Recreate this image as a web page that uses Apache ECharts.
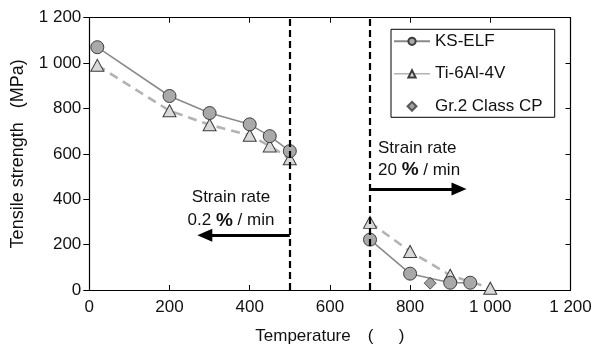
<!DOCTYPE html>
<html><head><meta charset="utf-8">
<script src="https://cdn.jsdelivr.net/npm/echarts@6/dist/echarts.min.js"></script>
<style>html,body{margin:0;padding:0;background:#fff}#c{width:595px;height:350px}</style>
</head><body><div id="c"></div>
<script>
// ---- data ----
var ksLowT  = [20, 200, 300, 400, 450, 500];
var ksLow   = [1070, 855, 780, 730, 678, 612];
var ksHighT = [700, 800, 900, 950];
var ksHigh  = [222, 72, 32, 32];
var tiLowT  = [20, 200, 300, 400, 450, 500];
var tiLow   = [990, 790, 728, 682, 635, 578];
var tiHighT = [700, 800, 900, 1000];
var tiHigh  = [298, 170, 65, 8];
var cpT     = [850];
var cp      = [30];
var xTicks  = [0, 200, 400, 600, 800, 1000, 1200];
var yTicks  = [0, 200, 400, 600, 800, 1000, 1200];
var rateBounds = [500, 700];
var arrowLow  = {from: 500, to: 288, y: 241};
var arrowHigh = {from: 700, to: 922, y: 445};

function pairs(xs, ys) { return xs.map(function (x, i) { return [x, ys[i]]; }); }
function fmt(v) { var s = String(v); return s.length > 3 ? s.slice(0, s.length - 3) + ' ' + s.slice(-3) : s; }

var FONT = 'Liberation Sans, Arial, sans-serif';
var chart = echarts.init(document.getElementById('c'), null, {renderer: 'canvas'});

var ksStyle = {
  type: 'line', name: 'KS-ELF', symbol: 'circle', symbolSize: 13,
  lineStyle: {color: '#8a8a8a', width: 1.6},
  itemStyle: {color: '#a9a9a9', borderColor: '#3c3c3c', borderWidth: 1},
  z: 4, animation: false
};
var tiStyle = {
  type: 'line', name: 'Ti-6Al-4V', symbol: 'triangle', symbolSize: [13, 12],
  lineStyle: {color: '#b3b3b3', width: 2.6, type: [9, 6]},
  itemStyle: {color: '#d9d9d9', borderColor: '#3c3c3c', borderWidth: 1},
  z: 3, animation: false
};
var richB = {b: {fontWeight: 'bold', fontSize: 19, fontFamily: FONT, fill: '#111'}};

var option = {
  animation: false,
  grid: {left: 89.3, right: 24.5, top: 17.7, bottom: 53.3},
  xAxis: [{
    type: 'value', min: xTicks[0], max: xTicks[xTicks.length - 1], interval: 200,
    name: 'Temperature\u3000(\u3000\u2002)', nameLocation: 'middle', nameGap: 38,
    nameTextStyle: {fontFamily: FONT, fontSize: 17, color: '#111'},
    axisLine: {onZero: false, lineStyle: {color: '#000', width: 1.2}},
    axisTick: {inside: true, length: 5, lineStyle: {color: '#000'}},
    axisLabel: {fontFamily: FONT, fontSize: 17, color: '#111', margin: 9, formatter: fmt},
    splitLine: {show: false}
  }, {
    type: 'value', position: 'top', min: xTicks[0], max: xTicks[xTicks.length - 1], interval: 200,
    axisLine: {show: true, onZero: false, lineStyle: {color: '#000', width: 1.2}},
    axisTick: {show: true, inside: true, length: 5, lineStyle: {color: '#000'}},
    axisLabel: {show: false}, splitLine: {show: false}
  }],
  yAxis: [{
    type: 'value', min: yTicks[0], max: yTicks[yTicks.length - 1], interval: 200,
    name: 'Tensile strength\u2002 (MPa)', nameLocation: 'middle', nameGap: 62, nameRotate: 90,
    nameTextStyle: {fontFamily: FONT, fontSize: 18, color: '#111'},
    axisLine: {show: true, onZero: false, lineStyle: {color: '#000', width: 1.2}},
    axisTick: {show: true, inside: false, length: 6, lineStyle: {color: '#000'}},
    axisLabel: {fontFamily: FONT, fontSize: 17, color: '#111', margin: 8, formatter: fmt},
    splitLine: {show: false}
  }, {
    type: 'value', position: 'right', min: yTicks[0], max: yTicks[yTicks.length - 1], interval: 200,
    axisLine: {show: true, onZero: false, lineStyle: {color: '#000', width: 1.2}},
    axisTick: {show: true, inside: true, length: 5, lineStyle: {color: '#000'}},
    axisLabel: {show: false}, splitLine: {show: false}
  }],
  legend: {
    orient: 'vertical', left: 391, top: 29.3,
    itemWidth: 36, itemHeight: 9, itemGap: 12.5, itemTextGap: 6,
    padding: [2, 12, 1, 2], symbolKeepAspect: true,
    borderColor: '#000', borderWidth: 1,
    textStyle: {fontFamily: FONT, fontSize: 17, color: '#111', lineHeight: 20},
    data: [
      {name: 'KS-ELF'},
      {name: 'Ti-6Al-4V', lineStyle: {type: 'solid', width: 1.6}},
      {name: 'Gr.2 Class CP', icon: 'path://M5,0L10,5L5,10L0,5Z'}
    ]
  },
  series: [
    Object.assign({}, ksStyle, {data: pairs(ksLowT, ksLow)}),
    Object.assign({}, ksStyle, {data: pairs(ksHighT, ksHigh)}),
    Object.assign({}, tiStyle, {data: pairs(tiLowT, tiLow)}),
    Object.assign({}, tiStyle, {data: pairs(tiHighT, tiHigh)}),
    {
      type: 'scatter', name: 'Gr.2 Class CP', symbol: 'diamond', symbolSize: 12,
      itemStyle: {color: '#8a8a8a', borderColor: '#3c3c3c', borderWidth: 1},
      data: pairs(cpT, cp), z: 5
    },
    {
      type: 'line', name: 'guides', data: [], silent: true, z: 2,
      markLine: {
        silent: true, animation: false, symbol: ['none', 'none'], label: {show: false},
        lineStyle: {color: '#000', width: 2.2, type: [7, 4]},
        data: rateBounds.map(function (v) { return {xAxis: v}; })
      }
    },
    {
      type: 'line', name: 'arrows', data: [], silent: true, z: 2,
      markLine: {
        silent: true, animation: false, symbol: ['none', 'triangle'], symbolSize: [13, 15],
        label: {show: false},
        lineStyle: {color: '#000', width: 3, type: 'solid'},
        itemStyle: {color: '#000'},
        data: [
          [{coord: [arrowLow.from, arrowLow.y]}, {coord: [arrowLow.to, arrowLow.y]}],
          [{coord: [arrowHigh.from, arrowHigh.y]}, {coord: [arrowHigh.to, arrowHigh.y]}]
        ]
      }
    }
  ],
  graphic: [
    {
      type: 'text', z: 10,
      style: {
        text: 'Strain rate\n0.2 {b|%} / min', x: 231, y: 186, align: 'center',
        font: '17px ' + FONT, fill: '#111', lineHeight: 23, rich: richB
      }
    },
    {
      type: 'text', z: 10,
      style: {
        text: 'Strain rate\n20 {b|%} / min', x: 378, y: 137, align: 'left',
        font: '17px ' + FONT, fill: '#111', lineHeight: 22, rich: richB
      }
    }
  ]
};
chart.setOption(option);
</script>
</body></html>
